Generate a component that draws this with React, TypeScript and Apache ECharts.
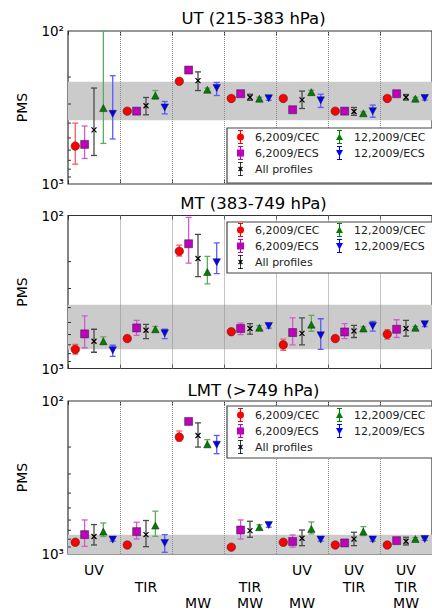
import { useEffect, useRef } from "react";
import * as echarts from "echarts";

const FONT = "DejaVu Sans";

const categories = ["UV", "TIR", "MW", "TIR\nMW", "UV\nMW", "UV\nTIR", "UV\nTIR\nMW"];
const labelRows = ["UV", "TIR", "MW"];
const seriesNames = ["6,2009/CEC", "6,2009/ECS", "All profiles", "12,2009/CEC", "12,2009/ECS"];
const panelTitles = ["UT (215-383 hPa)", "MT (383-749 hPa)", "LMT (>749 hPa)"];
const layerBands = [[215, 383], [383, 749], [749, 1000]];
const minorTickValues = [200, 300, 400, 500, 600, 700, 800, 900];

// [PMS, lower, upper] for each category
const ut_cec6 = [[565, 400, 742], [334, 326, 342], [213, 208, 218], [276, 270, 282], [276, 270, 282], [334, 327, 341], [276, 270, 282]];
const ut_ecs6 = [[551, 418, 681], [334, 322, 346], [180, 176, 184], [257, 251, 263], [327, 315, 339], [334, 325, 343], [257, 251, 263]];
const ut_all = [[443, 236, 651], [308, 272, 353], [211, 185, 245], [271, 259, 284], [282, 247, 321], [336, 316, 356], [271, 260, 283]];
const ut_cec12 = [[319, 100, 543], [264, 245, 279], [242, 236, 248], [277, 271, 283], [251, 244, 258], [345, 338, 352], [277, 271, 283]];
const ut_ecs12 = [[348, 196, 508], [316, 289, 348], [236, 217, 264], [275, 266, 284], [284, 259, 316], [334, 305, 366], [274, 265, 283]];

const mt_cec6 = [[751, 697, 806], [637, 622, 652], [171, 156, 184], [575, 560, 590], [700, 643, 760], [637, 622, 652], [597, 557, 643]];
const mt_ecs6 = [[594, 453, 732], [543, 484, 607], [153, 103, 205], [548, 505, 600], [582, 467, 700], [577, 509, 637], [554, 480, 627]];
const mt_all = [[664, 554, 783], [562, 514, 637], [191, 133, 251], [548, 509, 597], [589, 467, 700], [569, 522, 627], [548, 484, 615]];
const mt_cec12 = [[664, 622, 694], [554, 530, 578], [234, 185, 280], [542, 525, 560], [517, 449, 571], [548, 535, 561], [542, 530, 555]];
const mt_ecs12 = [[760, 705, 832], [589, 554, 637], [202, 151, 240], [527, 510, 545], [607, 473, 751], [527, 492, 569], [513, 495, 532]];

const lmt_cec6 = [[838, 815, 860], [873, 850, 895], [172, 157, 183], [902, 880, 925], [838, 815, 860], [873, 850, 895], [873, 850, 895]];
const lmt_ecs6 = [[747, 599, 891], [714, 620, 798], [136, 131, 141], [697, 599, 798], [829, 751, 902], [847, 825, 870], [818, 795, 840]];
const lmt_all = [[769, 642, 873], [747, 604, 895], [168, 139, 200], [703, 611, 777], [789, 697, 882], [798, 721, 882], [826, 777, 873]];
const lmt_cec12 = [[714, 627, 769], [652, 525, 766], [192, 179, 200], [668, 645, 690], [686, 617, 739], [714, 662, 758], [798, 780, 815]];
const lmt_ecs12 = [[805, 785, 825], [847, 747, 975], [193, 168, 221], [646, 625, 668], [805, 785, 825], [805, 785, 825], [798, 780, 815]];

const panelData = [
  [ut_cec6, ut_ecs6, ut_all, ut_cec12, ut_ecs12],
  [mt_cec6, mt_ecs6, mt_all, mt_cec12, mt_ecs12],
  [lmt_cec6, lmt_ecs6, lmt_all, lmt_cec12, lmt_ecs12],
];

// styling / layout
const colors = ["#ff0000", "#bf00bf", "#000000", "#007f00", "#0000ff"];
const errColors = ["#ff5a5a", "#d25ad2", "#4a4a4a", "#5aad5a", "#5a5aff"];
const offsets = [-0.36, -0.18, 0, 0.18, 0.36];
const symbols = ["circle", "rect", "path://M0,0L10,10M10,0L0,10", "triangle", "triangle"];
const symbolSizes = [8.5, 8, 5, [7.5, 7], [7.5, 7]];
const symbolRotates = [0, 0, 0, 0, 180];
const legendIcons = [
  "path://M4.5,0H5.5V14H4.5Z M2.5,0H7.5V1H2.5Z M2.5,13H7.5V14H2.5Z M8.5,7A3.5,3.5 0 1 1 1.5,7A3.5,3.5 0 1 1 8.5,7Z",
  "path://M4.5,0H5.5V14H4.5Z M2.5,0H7.5V1H2.5Z M2.5,13H7.5V14H2.5Z M1.5,3.5H8.5V10.5H1.5Z",
  "path://M4.6,0H5.4V14H4.6Z M2.5,0H7.5V0.8H2.5Z M2.5,13.2H7.5V14H2.5Z M2.6,5.4L3.4,4.6L7.4,8.6L6.6,9.4Z M6.6,4.6L7.4,5.4L3.4,9.4L2.6,8.6Z",
  "path://M4.5,0H5.5V14H4.5Z M2.5,0H7.5V1H2.5Z M2.5,13H7.5V14H2.5Z M5,3.5L8.5,10H1.5Z",
  "path://M4.5,0H5.5V14H4.5Z M2.5,0H7.5V1H2.5Z M2.5,13H7.5V14H2.5Z M1.5,4H8.5L5,10.5Z",
];
const gridTops = [31, 215.5, 401];
const gridHeight = 153;
const titleYs = [18, 203, 390];
const legendBoxes = [
  { y: 128, h: 55 },
  { y: 222, h: 51 },
  { y: 406, h: 52 },
];
const legendRowTop = [130, 223, 408];

export default function App() {
  const ref = useRef<HTMLDivElement>(null);
  useEffect(() => {
    if (!ref.current) return;
    const chart = echarts.init(ref.current, undefined, { renderer: "svg" });

    const grid: any[] = [];
    const xAxis: any[] = [];
    const yAxis: any[] = [];
    const series: any[] = [];
    const legend: any[] = [];
    const graphic: any[] = [];

    panelData.forEach((panel, p) => {
      grid.push({
        left: 68,
        right: -7,
        top: gridTops[p],
        height: gridHeight,
        show: true,
        borderColor: "#333",
        borderWidth: 1.2,
        backgroundColor: "transparent",
      });
      xAxis.push({
        type: "value",
        gridIndex: p,
        position: "top",
        min: 0,
        max: categories.length,
        interval: 1,
        axisLine: { show: false },
        axisLabel: { show: false },
        splitLine: { show: false },
        axisTick: { show: true, inside: true, length: 4, lineStyle: { color: "#333" } },
      });
      xAxis.push({
        type: "category",
        gridIndex: p,
        position: "bottom",
        data: categories,
        boundaryGap: true,
        axisLine: { show: false },
        splitLine: { show: false },
        axisTick: { show: true, inside: true, length: 4, lineStyle: { color: "#333" } },
        axisLabel: {
          show: p === panelData.length - 1,
          interval: 0,
          formatter: (v: string) =>
            labelRows.map((r) => (v.split("\n").includes(r) ? r : " ")).join("\n"),
          fontSize: 14,
          lineHeight: 16.5,
          margin: 8,
          color: "#000",
          fontFamily: FONT,
        },
      });
      yAxis.push({
        type: "log",
        logBase: 10,
        gridIndex: p,
        inverse: true,
        min: 100,
        max: 1000,
        axisLine: { show: false },
        axisTick: { show: false },
        splitLine: { show: false },
        axisLabel: {
          formatter: (v: number) => {
            const e = Math.round(Math.log10(v));
            return e === 2 ? "10²" : e === 3 ? "10³" : "";
          },
          fontSize: 13.5,
          color: "#000",
          fontFamily: FONT,
          margin: 4,
          showMinLabel: true,
          showMaxLabel: true,
        },
        name: "PMS",
        nameLocation: "middle",
        nameRotate: 90,
        nameGap: 39,
        nameTextStyle: { fontSize: 14, color: "#000", fontFamily: FONT },
      });

      const xi = 2 * p;
      series.push({
        type: "scatter",
        name: "band" + p,
        xAxisIndex: xi,
        yAxisIndex: p,
        data: [],
        z: 1,
        silent: true,
        markArea: {
          silent: true,
          itemStyle: { color: "#cbcbcb" },
          data: [[{ yAxis: layerBands[p][0] }, { yAxis: layerBands[p][1] }]],
        },
      });
      series.push({
        type: "custom",
        name: "ticks" + p,
        xAxisIndex: xi,
        yAxisIndex: p,
        z: 4,
        silent: true,
        data: minorTickValues.map((v) => [0, v]),
        encode: { x: 0, y: 1 },
        renderItem: (_params: any, api: any) => {
          const pt = api.coord([api.value(0), api.value(1)]);
          return {
            type: "line",
            shape: { x1: pt[0], y1: pt[1], x2: pt[0] + 3, y2: pt[1] },
            style: { stroke: "#333", lineWidth: 1 },
          };
        },
        markLine: {
          silent: true,
          symbol: ["none", "none"],
          label: { show: false },
          lineStyle: { type: "dotted", color: "#8a8a8a", width: 1 },
          data: categories.slice(1).map((_c, i) => ({ xAxis: i + 1 })),
        },
      });

      panel.forEach((vals, k) => {
        series.push({
          type: "custom",
          name: "err" + p + "_" + k,
          xAxisIndex: xi,
          yAxisIndex: p,
          z: 2,
          silent: true,
          clip: true,
          data: vals.map((d, g) => [g + 0.5 + offsets[k], d[0], d[1], d[2]]),
          encode: { x: 0, y: [1, 2, 3] },
          renderItem: (_params: any, api: any) => {
            const x = api.value(0);
            const a = api.coord([x, api.value(2)]);
            const b = api.coord([x, api.value(3)]);
            const st = { stroke: errColors[k], lineWidth: 1.3 };
            return {
              type: "group",
              children: [
                { type: "line", shape: { x1: a[0], y1: a[1], x2: b[0], y2: b[1] }, style: st },
                { type: "line", shape: { x1: a[0] - 3, y1: a[1], x2: a[0] + 3, y2: a[1] }, style: st },
                { type: "line", shape: { x1: b[0] - 3, y1: b[1], x2: b[0] + 3, y2: b[1] }, style: st },
              ],
            };
          },
        });
        series.push({
          type: "scatter",
          name: seriesNames[k],
          xAxisIndex: xi,
          yAxisIndex: p,
          z: 3,
          data: vals.map((d, g) => [g + 0.5 + offsets[k], d[0]]),
          symbol: symbols[k],
          symbolSize: symbolSizes[k],
          symbolRotate: symbolRotates[k],
          itemStyle: {
            color: colors[k],
            borderColor: k === 2 ? "#000" : "#222",
            borderWidth: k === 2 ? 1.2 : 0.5,
            opacity: 1,
          },
        });
      });

      graphic.push({
        type: "rect",
        z: 10,
        shape: { x: 227, y: legendBoxes[p].y, width: 220, height: legendBoxes[p].h },
        style: { fill: "#fff", stroke: "#444", lineWidth: 1.2 },
      });
      const legendCommon = {
        orient: "vertical",
        top: legendRowTop[p],
        itemWidth: 19,
        itemHeight: 14,
        itemGap: 2,
        padding: 0,
        z: 11,
        selectedMode: false,
        symbolKeepAspect: true,
        textStyle: { fontSize: 11, color: "#222", fontFamily: FONT },
      };
      legend.push({
        ...legendCommon,
        left: 237,
        data: [0, 1, 2].map((k) => ({ name: seriesNames[k], icon: legendIcons[k], itemStyle: { borderWidth: 0 } })),
      });
      legend.push({
        ...legendCommon,
        left: 336,
        data: [3, 4].map((k) => ({ name: seriesNames[k], icon: legendIcons[k], itemStyle: { borderWidth: 0 } })),
      });

      graphic.push({
        type: "text",
        x: 253.5,
        y: titleYs[p],
        style: {
          text: panelTitles[p],
          fill: "#000",
          fontSize: 16.5,
          fontFamily: FONT,
          align: "center",
          verticalAlign: "middle",
        },
      });
    });

    chart.setOption({
      animation: false,
      backgroundColor: "#fff",
      grid,
      xAxis,
      yAxis,
      series,
      legend,
      graphic,
    });
    return () => chart.dispose();
  }, []);

  return (
    <div
      ref={ref}
      style={{ position: "absolute", left: 0, top: 0, width: 432, height: 612 }}
    />
  );
}
